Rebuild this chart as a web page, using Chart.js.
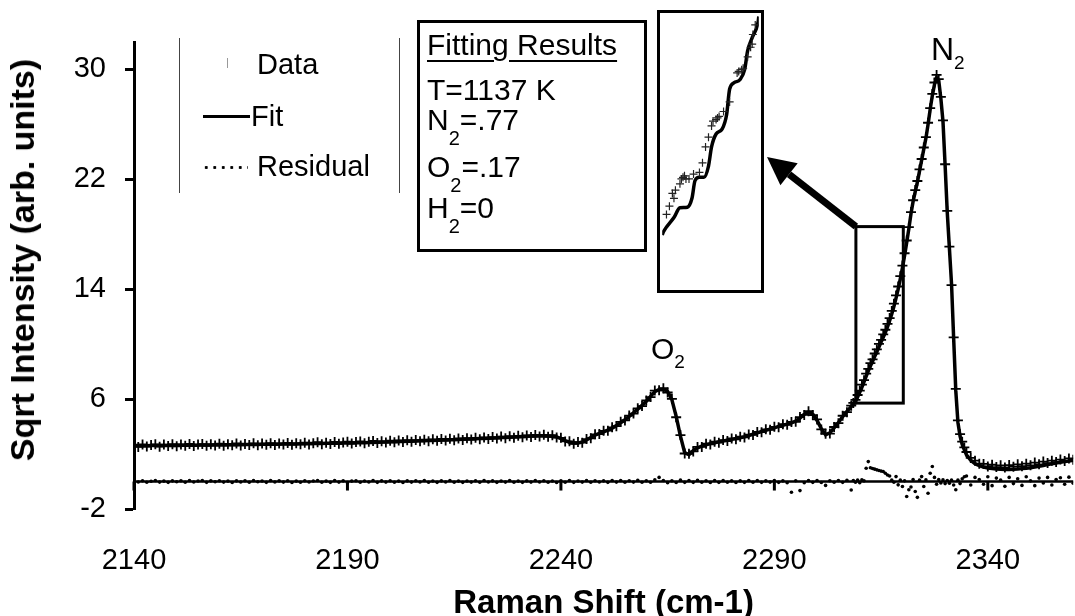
<!DOCTYPE html>
<html>
<head>
<meta charset="utf-8">
<script src="https://cdn.jsdelivr.net/npm/chart.js@4.4.1/dist/chart.umd.min.js"></script>
<style>
  html, body { margin: 0; padding: 0; background: #fff; overflow: hidden; }
  #wrap { position: relative; width: 1075px; height: 616px; overflow: hidden; font-family: 'Liberation Sans', Arial, sans-serif; color: #000; }
  #plot { position: absolute; left: 0; top: 0; width: 1080px; height: 616px; }
  .abs { position: absolute; white-space: nowrap; line-height: 1; }
  .vline { position: absolute; width: 0; border-left: 1px solid #444; }
  .leg { font-size: 29px; }
  .fit { font-size: 30px; }
  .sub { font-size: 20px; position: relative; top: 15px; }
  .lbl-sub { font-size: 19px; position: relative; top: 9px; }
  #ytitle { position: absolute; left: 22px; top: 260px; width: 0; height: 0; }
  #ytitle span { position: absolute; left: 0; top: 0; transform: translate(-50%, -50%) rotate(-90deg); font-size: 34px; font-weight: bold; white-space: nowrap; line-height: 1; }
  #fitbox { position: absolute; left: 417px; top: 20px; width: 230px; height: 232px; border: 3px solid #000; box-sizing: border-box; }
  #inset { position: absolute; left: 657px; top: 10px; width: 107px; height: 283px; }
  #insetFrame { position: absolute; left: 657px; top: 10px; width: 107px; height: 283px; border: 3.5px solid #000; box-sizing: border-box; }
</style>
</head>
<body>
<div id="wrap">
  <div id="plot"><canvas id="main"></canvas></div>

  <div id="ytitle"><span>Sqrt Intensity (arb. units)</span></div>

  <!-- legend -->
  <div class="vline" style="left:179px; top:38px; height:155px;"></div>
  <div class="vline" style="left:399px; top:38px; height:155px;"></div>
  <div style="position:absolute; left:227px; top:58px; width:1px; height:10px; background:#999;"></div>
  <div class="abs leg" style="left:257px; top:50px;">Data</div>
  <div style="position:absolute; left:203px; top:115px; width:47px; height:3px; background:#000;"></div>
  <div class="abs leg" style="left:251px; top:102px;">Fit</div>
  <div style="position:absolute; left:202px; top:165px; width:46px; height:5px; background: radial-gradient(circle, #000 1.3px, transparent 1.7px); background-size: 8.5px 5px;"></div>
  <div class="abs leg" style="left:257px; top:152px;">Residual</div>

  <!-- fitting results -->
  <div id="fitbox"></div>
  <div class="abs fit" style="left:427px; top:30px; text-decoration: underline; text-decoration-thickness: 2px; text-underline-offset: 5px;">Fitting Results</div>
  <div class="abs fit" style="left:427px; top:75px;">T=1137 K</div>
  <div class="abs fit" style="left:427px; top:105px;">N<span class="sub">2</span>=.77</div>
  <div class="abs fit" style="left:427px; top:152px;">O<span class="sub">2</span>=.17</div>
  <div class="abs fit" style="left:427px; top:193px;">H<span class="sub">2</span>=0</div>

  <!-- inset -->
  <canvas id="inset" width="107" height="283"></canvas>
  <div id="insetFrame"></div>

  <!-- peak labels -->
  <div class="abs" style="left:651px; top:334px; font-size:30px;">O<span class="lbl-sub">2</span></div>
  <div class="abs" style="left:931px; top:33px; font-size:32px;">N<span class="lbl-sub">2</span></div>
</div>

<script>
const FONT = "'Liberation Sans', Arial, sans-serif";

const xTicks = [2140, 2190, 2240, 2290, 2340];
const yTicks = [-2, 6, 14, 22, 30];

// Raman shift (cm-1)
const shift = [
  2140,2141,2142,2143,2144,2145,2146,2147,2148,2149,
  2150,2151,2152,2153,2154,2155,2156,2157,2158,2159,
  2160,2161,2162,2163,2164,2165,2166,2167,2168,2169,
  2170,2171,2172,2173,2174,2175,2176,2177,2178,2179,
  2180,2181,2182,2183,2184,2185,2186,2187,2188,2189,
  2190,2191,2192,2193,2194,2195,2196,2197,2198,2199,
  2200,2201,2202,2203,2204,2205,2206,2207,2208,2209,
  2210,2211,2212,2213,2214,2215,2216,2217,2218,2219,
  2220,2221,2222,2223,2224,2225,2226,2227,2228,2229,
  2230,2231,2232,2233,2234,2235,2236,2237,2238,2239,
  2240,2241,2242,2243,2244,2245,2246,2247,2248,2249,
  2250,2251,2252,2253,2254,2255,2256,2257,2258,2259,
  2260,2261,2262,2263,2264,2265,2266,2267,2268,2269,
  2270,2271,2272,2273,2274,2275,2276,2277,2278,2279,
  2280,2281,2282,2283,2284,2285,2286,2287,2288,2289,
  2290,2291,2292,2293,2294,2295,2296,2297,2298,2299,
  2300,2301,2302,2303,2304,2305,2306,2307,2308,
  2308.5,2309,2309.5,2310,2310.5,2311,2311.5,2312,2312.5,2313,
  2313.5,2314,2314.5,2315,2315.5,2316,2316.5,2317,2317.5,2318,
  2318.5,2319,2319.5,2320,2320.5,2321,2321.5,2322,2322.5,2323,
  2323.5,2324,2324.5,2325,2325.5,2326,2326.5,2327,2327.5,2328,
  2328.5,2329,2329.5,2330,2330.5,2331,2331.5,2332,2332.5,2333,
  2333.5,2334,2334.5,
  2335,2336,2337,2338,2339,2340,2341,2342,2343,2344,
  2345,2346,2347,2348,2349,2350,2351,2352,2353,2354,
  2355,2356,2357,2358,2359,2360
];

// measured sqrt intensity
const measured = [
  2.68,2.52,2.70,2.55,2.66,2.71,2.54,2.69,2.58,2.72,
  2.57,2.70,2.60,2.74,2.58,2.69,2.73,2.60,2.71,2.62,
  2.75,2.61,2.72,2.64,2.77,2.63,2.74,2.66,2.78,2.65,
  2.76,2.67,2.79,2.66,2.77,2.70,2.81,2.68,2.78,2.71,
  2.83,2.70,2.79,2.86,2.72,2.82,2.74,2.88,2.75,2.84,
  2.90,2.76,2.87,2.92,2.79,2.89,2.95,2.81,2.93,2.84,
  2.97,2.86,2.99,2.88,3.01,2.90,3.02,2.93,3.05,2.94,
  3.07,2.96,3.10,2.98,3.11,3.01,3.14,3.03,3.15,3.06,
  3.18,3.08,3.21,3.10,3.24,3.13,3.27,3.16,3.30,3.19,
  3.33,3.22,3.36,3.25,3.39,3.28,3.40,3.26,3.37,3.20,
  3.18,2.92,2.93,2.75,2.87,2.83,3.09,3.15,3.44,3.46,
  3.69,3.70,3.95,4.03,4.35,4.45,4.80,4.95,5.33,5.49,
  5.90,6.15,6.62,6.64,6.79,6.48,6.02,4.68,3.38,2.04,
  2.02,2.19,2.52,2.52,2.75,2.70,2.90,2.83,3.02,2.95,
  3.14,3.07,3.26,3.21,3.42,3.39,3.61,3.59,3.80,3.77,
  3.98,3.96,4.17,4.13,4.34,4.35,4.69,4.85,5.12,4.84,
  4.52,3.79,3.47,3.49,3.97,4.25,4.79,5.05,5.52,
  5.72,5.95,6.30,6.62,7.05,7.38,7.85,8.20,8.62,8.90,
  9.32,9.62,10.02,10.32,10.72,11.05,11.48,11.90,12.42,12.95,
  13.55,14.20,14.95,15.72,16.62,17.55,18.52,19.62,20.48,21.22,
  21.88,22.72,23.48,24.32,25.08,26.12,27.18,28.22,29.05,29.60,
  29.30,28.00,26.30,23.10,19.70,17.10,14.30,10.50,6.75,4.45,
  3.45,2.90,2.48,
  2.15,1.72,1.52,1.30,1.28,1.10,1.22,1.05,1.18,1.02,
  1.20,1.08,1.25,1.12,1.30,1.18,1.38,1.25,1.45,1.34,
  1.52,1.42,1.60,1.50,1.68,1.58
];

// fitted spectrum
const fitted = [
  2.60,2.60,2.61,2.61,2.62,2.62,2.62,2.63,2.63,2.63,
  2.64,2.64,2.64,2.65,2.65,2.65,2.66,2.66,2.66,2.67,
  2.67,2.67,2.68,2.68,2.68,2.69,2.69,2.70,2.70,2.70,
  2.71,2.71,2.72,2.72,2.72,2.73,2.73,2.74,2.74,2.75,
  2.75,2.76,2.76,2.77,2.77,2.78,2.78,2.79,2.79,2.80,
  2.80,2.81,2.82,2.83,2.83,2.84,2.85,2.86,2.87,2.88,
  2.89,2.90,2.91,2.92,2.93,2.94,2.95,2.96,2.97,2.98,
  2.99,3.00,3.02,3.03,3.04,3.05,3.06,3.08,3.09,3.10,
  3.11,3.13,3.14,3.15,3.17,3.18,3.20,3.21,3.23,3.24,
  3.26,3.28,3.29,3.31,3.32,3.33,3.33,3.32,3.30,3.25,
  3.12,2.98,2.86,2.80,2.80,2.88,3.02,3.20,3.38,3.50,
  3.62,3.75,3.88,4.08,4.28,4.50,4.74,5.00,5.27,5.54,
  5.84,6.20,6.55,6.70,6.72,6.55,5.95,4.75,3.30,2.10,
  1.95,2.25,2.45,2.58,2.68,2.76,2.83,2.89,2.95,3.01,
  3.07,3.13,3.19,3.26,3.35,3.44,3.54,3.64,3.73,3.82,
  3.91,4.01,4.10,4.18,4.27,4.40,4.62,4.90,5.05,4.90,
  4.45,3.85,3.40,3.55,3.90,4.30,4.72,5.10,5.45,
  5.65,5.85,6.15,6.50,6.85,7.25,7.65,8.05,8.40,8.75,
  9.10,9.45,9.80,10.15,10.50,10.85,11.25,11.70,12.20,12.75,
  13.35,14.00,14.75,15.55,16.45,17.40,18.40,19.50,20.40,21.10,
  21.80,22.60,23.40,24.20,25.00,26.00,27.10,28.10,28.90,29.40,
  29.20,27.90,26.20,23.00,19.60,17.00,14.40,10.40,6.60,4.30,
  3.30,2.70,2.30,
  1.95,1.55,1.30,1.15,1.05,0.98,0.94,0.91,0.89,0.88,
  0.88,0.89,0.91,0.94,0.97,1.01,1.06,1.11,1.17,1.23,
  1.29,1.35,1.40,1.45,1.50,1.55
];

// residual (data - fit)
const residual = [
  0.04,-0.03,0.06,-0.05,0.02,0.07,-0.04,0.03,-0.06,0.05,
  -0.02,0.06,-0.05,0.08,-0.03,0.04,0.07,-0.06,0.05,-0.02,
  0.06,-0.04,0.03,-0.07,0.05,-0.03,0.06,-0.05,0.08,-0.02,
  0.04,-0.06,0.07,-0.03,0.05,-0.04,0.06,-0.07,0.03,-0.05,
  0.06,-0.03,0.04,0.08,-0.05,0.03,-0.06,0.07,-0.04,0.05,
  -0.08,0.03,0.06,-0.05,0.04,-0.03,0.07,-0.06,0.05,-0.04,
  0.06,-0.05,0.03,-0.07,0.05,-0.04,0.06,-0.03,0.08,-0.05,
  0.04,-0.06,0.05,-0.03,0.07,-0.05,0.03,-0.06,0.04,-0.04,
  0.06,-0.05,0.08,-0.03,0.05,-0.06,0.04,-0.04,0.07,-0.05,
  0.03,-0.06,0.05,-0.04,0.07,-0.03,0.06,-0.05,0.04,-0.07,
  0.05,-0.05,0.08,-0.06,0.04,-0.04,0.07,-0.05,0.06,-0.03,
  0.05,-0.06,0.07,-0.04,0.08,-0.05,0.06,-0.04,0.09,-0.05,
  0.06,-0.05,0.12,0.30,0.07,-0.08,0.06,-0.07,0.10,-0.06,
  0.07,-0.06,0.09,-0.05,0.06,-0.07,0.08,-0.06,0.07,-0.05,
  0.06,-0.07,0.05,-0.06,0.08,-0.05,0.07,-0.06,0.05,-0.04,
  0.07,-0.06,0.05,-0.08,-0.78,0.06,-0.66,-0.08,0.07,-0.06,
  0.08,-0.07,-0.28,0.06,-0.05,0.07,-0.06,0.09,-0.62,
  0.08,-0.05,0.10,-0.08,0.12,0.05,0.97,1.45,1.00,0.95,
  0.90,0.85,0.80,0.76,0.73,0.60,0.48,0.40,0.10,-0.05,
  0.36,-0.24,0.10,-0.36,0.05,-1.09,-0.60,-0.40,0.15,-0.73,
  -1.15,0.10,0.36,-0.36,0.12,-0.85,0.60,1.09,0.30,-0.20,
  0.15,-0.10,0.12,-0.15,0.08,-0.12,0.10,-0.25,-0.60,0.10,
  -0.15,0.20,0.35,
  0.40,-0.25,0.30,0.15,-0.20,0.35,-0.30,0.25,0.10,-0.35,
  0.30,-0.15,0.20,-0.28,0.35,0.05,-0.30,0.25,-0.10,0.30,
  -0.25,0.15,0.28,-0.20,0.32,-0.12
];

// region shown magnified in the inset
const zoomShift = [2309.1, 2320.2];
const zoomIntensity = [5.71, 18.56];

// inset: fit and data across the zoomed region
const insetFitShift = [2309.1, 2309.23, 2310.45, 2311.14, 2312.0, 2312.52, 2312.87, 2313.38, 2313.9, 2314.42, 2314.77,
  2315.29, 2315.98, 2316.5, 2316.85, 2317.37, 2318.05, 2318.57, 2318.92, 2319.44, 2320.13, 2320.2];
const insetFitValue = [8.2, 8.34, 9.02, 9.48, 9.51, 9.93, 10.76, 10.92, 10.92, 11.45, 12.35,
  12.96, 13.19, 13.87, 15.08, 15.38, 15.53, 15.99, 16.89, 17.5, 18.26, 18.5];
const insetDataShift = [2309.59, 2309.93, 2310.27, 2310.45, 2310.62, 2311.14, 2311.31, 2311.49, 2311.66, 2311.83,
  2312.18, 2312.7, 2313.38, 2313.73, 2314.08, 2314.42, 2314.77, 2314.94, 2315.29, 2315.46,
  2315.64, 2316.15, 2316.85, 2317.71, 2317.89, 2318.23, 2318.4, 2318.92, 2319.26, 2319.44,
  2319.52, 2319.79];
const insetDataValue = [9.17, 9.56, 10.16, 9.93, 10.31, 10.61, 10.84, 10.92, 10.99, 10.84,
  10.84, 11.07, 11.15, 11.6, 12.35, 12.81, 13.34, 13.57, 13.64, 13.72,
  13.79, 14.02, 14.47, 15.84, 15.91, 15.99, 16.06, 16.6, 17.05, 17.2,
  17.65, 18.1];

const pairs = (xs, ys) => xs.map((x, i) => ({ x: x, y: ys[i] }));

// x axis crosses at zero, zoom box and arrow to the inset
const overlayPlugin = {
  id: 'overlay',
  afterDraw(chart) {
    const { ctx, chartArea, scales: { x, y } } = chart;
    ctx.save();
    ctx.strokeStyle = '#000';
    ctx.fillStyle = '#000';

    const y0 = y.getPixelForValue(0);
    ctx.lineWidth = 2.5;
    ctx.beginPath();
    ctx.moveTo(chartArea.left, y0);
    ctx.lineTo(chartArea.right, y0);
    ctx.stroke();
    ctx.lineWidth = 3;
    xTicks.forEach(v => {
      const px = x.getPixelForValue(v);
      ctx.beginPath();
      ctx.moveTo(px, y0);
      ctx.lineTo(px, y0 + 9);
      ctx.stroke();
    });

    const bx0 = x.getPixelForValue(zoomShift[0]);
    const bx1 = x.getPixelForValue(zoomShift[1]);
    const by0 = y.getPixelForValue(zoomIntensity[1]);
    const by1 = y.getPixelForValue(zoomIntensity[0]);
    ctx.lineWidth = 3;
    ctx.strokeRect(bx0, by0, bx1 - bx0, by1 - by0);

    // arrow from the box corner to the inset frame
    const inset = document.getElementById('insetFrame');
    const tipX = inset.offsetLeft + inset.offsetWidth + 3;
    const tipY = inset.offsetTop + 147;
    const ang = Math.atan2(by0 - tipY, bx0 - tipX);
    const headLen = 28, headHalf = 14;
    const baseX = tipX + Math.cos(ang) * headLen;
    const baseY = tipY + Math.sin(ang) * headLen;
    ctx.lineWidth = 7;
    ctx.beginPath();
    ctx.moveTo(bx0, by0);
    ctx.lineTo(baseX, baseY);
    ctx.stroke();
    ctx.beginPath();
    ctx.moveTo(tipX, tipY);
    ctx.lineTo(baseX - Math.sin(ang) * headHalf, baseY + Math.cos(ang) * headHalf);
    ctx.lineTo(baseX + Math.sin(ang) * headHalf, baseY - Math.cos(ang) * headHalf);
    ctx.closePath();
    ctx.fill();
    ctx.restore();
  }
};

new Chart(document.getElementById('main'), {
  type: 'scatter',
  data: {
    datasets: [
      {
        label: 'Residual',
        data: pairs(shift, residual),
        showLine: false,
        pointRadius: 1.8,
        pointBackgroundColor: '#000',
        pointBorderWidth: 0,
        order: 1
      },
      {
        label: 'Data',
        data: pairs(shift, measured),
        showLine: false,
        pointStyle: 'cross',
        pointRadius: 5,
        borderColor: '#000',
        pointBorderWidth: 1.8,
        order: 2
      },
      {
        label: 'Fit',
        data: pairs(shift, fitted),
        showLine: true,
        borderColor: '#000',
        borderWidth: 3.5,
        pointRadius: 0,
        tension: 0,
        order: 3
      }
    ]
  },
  options: {
    responsive: true,
    maintainAspectRatio: false,
    animation: false,
    layout: { padding: { top: 42, left: 0, right: 0, bottom: 0 } },
    plugins: { legend: { display: false }, tooltip: { enabled: false } },
    scales: {
      x: {
        type: 'linear',
        min: 2140,
        max: 2360,
        afterBuildTicks: s => { s.ticks = xTicks.map(v => ({ value: v })); },
        afterFit: s => { s.height = 107; },
        border: { display: false },
        grid: { display: false, drawTicks: false },
        ticks: { color: '#000', font: { family: FONT, size: 29 }, padding: 35, maxRotation: 0, autoSkip: false, callback: v => String(v) },
        title: {
          display: true,
          text: 'Raman Shift (cm-1)',
          color: '#000',
          font: { family: FONT, size: 33, weight: 'bold', lineHeight: 1 },
          padding: { top: 0, bottom: -4 }
        }
      },
      y: {
        min: -2,
        max: 32,
        afterBuildTicks: s => { s.ticks = yTicks.map(v => ({ value: v })); },
        afterFit: s => { s.width = 134; },
        border: { display: true, color: '#000', width: 3 },
        grid: { drawOnChartArea: false, drawTicks: true, tickLength: 9, tickWidth: 3, color: '#000' },
        ticks: { color: '#000', font: { family: FONT, size: 29 }, padding: 19, callback: v => String(v) },
        title: { display: false }
      }
    }
  },
  plugins: [overlayPlugin]
});

// magnified inset
new Chart(document.getElementById('inset'), {
  type: 'scatter',
  data: {
    datasets: [
      {
        label: 'Data',
        data: pairs(insetDataShift, insetDataValue),
        showLine: false,
        pointStyle: 'cross',
        pointRadius: 4,
        borderColor: '#222',
        pointBorderWidth: 1.2,
        order: 1
      },
      {
        label: 'Fit',
        data: pairs(insetFitShift, insetFitValue),
        showLine: true,
        borderColor: '#000',
        borderWidth: 3.5,
        pointRadius: 0,
        cubicInterpolationMode: 'monotone',
        order: 2
      }
    ]
  },
  options: {
    responsive: false,
    animation: false,
    layout: { padding: 0 },
    plugins: { legend: { display: false }, tooltip: { enabled: false } },
    scales: {
      x: { type: 'linear', display: false, min: zoomShift[0], max: zoomShift[1] },
      y: { display: false, min: zoomIntensity[0], max: zoomIntensity[1] }
    }
  }
});
</script>
</body>
</html>
